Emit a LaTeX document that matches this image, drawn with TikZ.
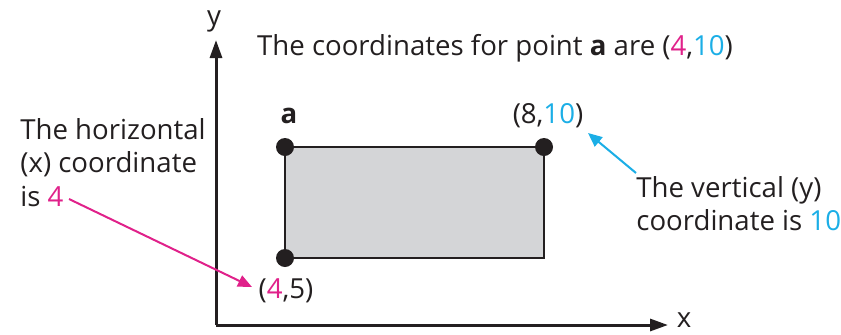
\documentclass[tikz,border=0pt]{standalone}
\usepackage{fontspec}
\setmainfont{Open Sans}
\usetikzlibrary{arrows.meta,positioning}
\definecolor{ptpink}{HTML}{E0218A}
\definecolor{ptblue}{HTML}{1BAEE6}
\definecolor{ptdark}{HTML}{231F20}
\definecolor{ptgrey}{HTML}{D4D5D7}
\newcommand{\xval}[1]{\textcolor{ptpink}{#1}}
\newcommand{\yval}[1]{\textcolor{ptblue}{#1}}

\begin{document}
\begin{tikzpicture}[x=0.5pt, y=-0.5pt]
  \tikzset{every node/.style={font=\fontsize{13.8}{16.8}\selectfont, text=ptdark},
    corner/.style={circle, fill=ptdark, inner sep=0pt, minimum size=9pt},
    note/.style={align=left, inner sep=0pt, anchor=north west},
    axis/.style={ptdark, line width=1.5pt, -{Triangle[length=9pt, width=6pt]}},
    pointer/.style={line width=1pt, -{Triangle[length=7pt, width=6pt]}}}
  \useasboundingbox (0,0) rectangle (841,334);
  % axes
  \coordinate (origin) at (216,325);
  \coordinate (ytip) at (216,40);
  \coordinate (xtip) at (668,325);
  \draw[axis] (origin) -- (ytip);
  \draw[axis] (origin) -- (xtip);
  \node (ylabel) at (214,21) {y};
  \node (xlabel) at (684,320) {x};
  % rectangle
  \coordinate (topleft) at (285,147);
  \coordinate (topright) at (544,147);
  \coordinate (botleft) at (285,258);
  \draw[ptdark, fill=ptgrey, line width=1pt] (botleft) rectangle (topright);
  \node[corner] (ptA) at (topleft) {};
  \node[corner] (ptB) at (topright) {};
  \node[corner] (ptC) at (botleft) {};
  \node (alabel) at (289,116) {\textbf{a}};
  \node (blabel) at (548,116) {(8,\yval{10})};
  \node (clabel) at (286,291) {(\xval{4},5)};
  % texts
  \node (title) at (495,48) {The coordinates for point \textbf{a} are (\xval{4},\yval{10})};
  \node[note] (hnote) at (20,118) {The horizontal\\(x) coordinate\\is \xval{4}};
  \node[note] (vnote) at (636,176) {The vertical (y)\\coordinate is \yval{10}};
  % pointers
  \coordinate (hstart) at (69,199);
  \coordinate (hend) at (252,287);
  \coordinate (vstart) at (636,173);
  \coordinate (vend) at (588,133);
  \draw[pointer, ptpink] (hstart) -- (hend);
  \draw[pointer, ptblue] (vstart) -- (vend);
\end{tikzpicture}
\end{document}
